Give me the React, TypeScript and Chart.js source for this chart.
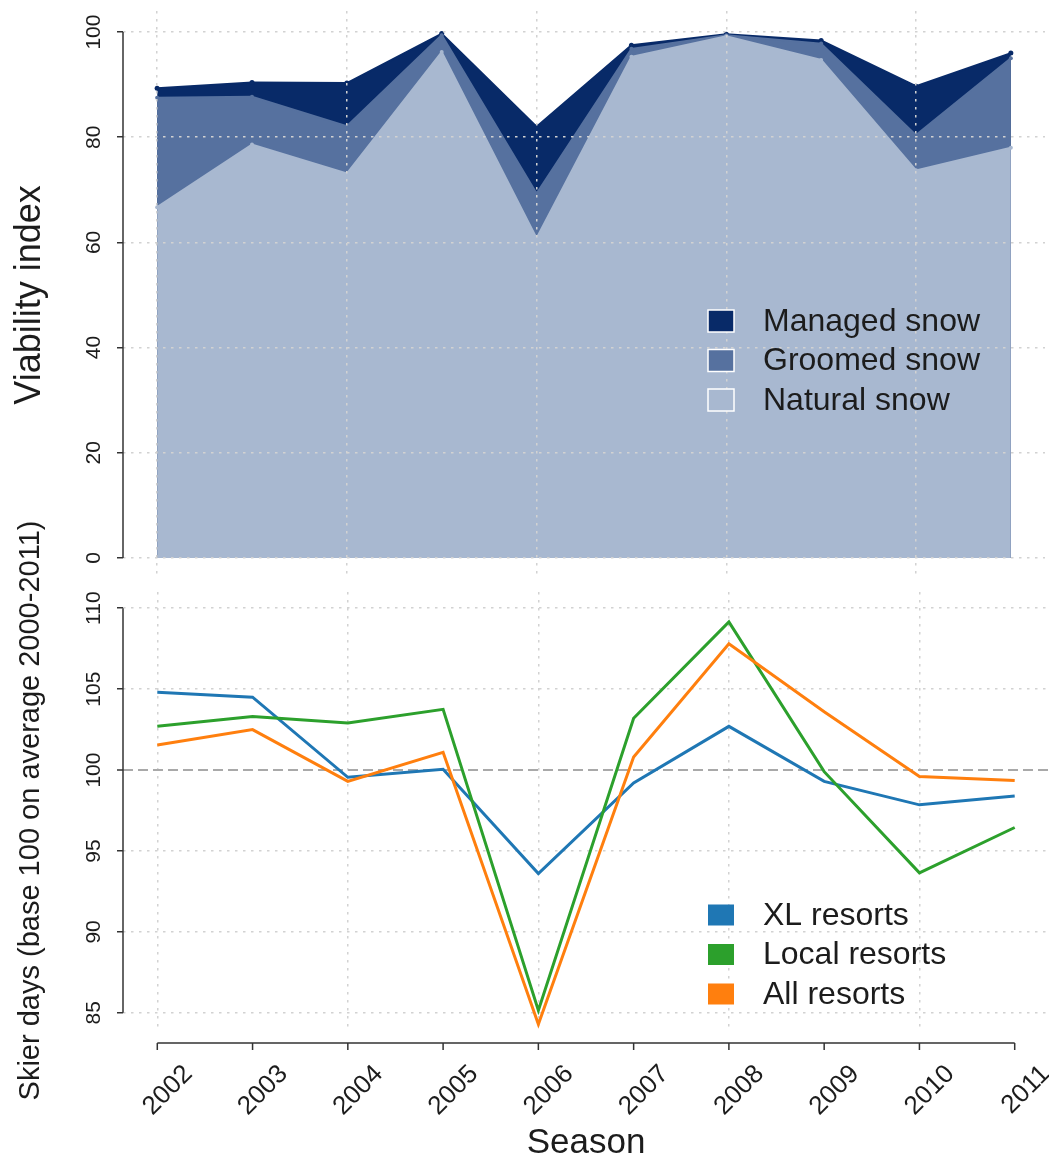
import React, { useEffect, useRef } from 'react';
import { Chart, registerables } from 'chart.js';

Chart.register(...registerables);

// ---------------- data ----------------
const YEARS = [2002, 2003, 2004, 2005, 2006, 2007, 2008, 2009, 2010, 2011];
const YEAR_LABELS = ['2002', '2003', '2004', '2005', '2006', '2007', '2008', '2009', '2010', '2011'];
const GRID_YEARS = [2002, 2004, 2006, 2008, 2010];

const MANAGED = [89.3, 90.4, 90.3, 99.7, 82.0, 97.5, 99.6, 98.4, 89.7, 96.0];
const GROOMED = [87.5, 87.7, 82.1, 99.4, 69.3, 96.8, 99.4, 97.8, 80.4, 95.0];
const NATURAL = [66.7, 78.6, 73.1, 96.2, 60.8, 95.3, 99.2, 94.7, 73.7, 78.0];
const VIAB_TICKS = [0, 20, 40, 60, 80, 100];
const SNOW_LABELS = ['Managed snow', 'Groomed snow', 'Natural snow'];

const XL = [104.8, 104.5, 99.55, 100.05, 93.6, 99.2, 102.7, 99.3, 97.85, 98.4];
const LOCAL = [102.7, 103.3, 102.9, 103.75, 85.15, 103.2, 109.15, 99.9, 93.65, 96.45];
const ALL = [101.55, 102.5, 99.3, 101.1, 84.3, 100.8, 107.8, 103.6, 99.6, 99.35];
const SKIER_TICKS = [85, 90, 95, 100, 105, 110];
const RESORT_LABELS = ['XL resorts', 'Local resorts', 'All resorts'];

// ---------------- styles ----------------
const FONT = "'Liberation Sans', Arial, Helvetica, sans-serif";
const C_MANAGED = '#082a68';
const C_GROOMED = '#56719f';
const C_NATURAL = '#a8b8d0';
const C_XL = '#1f77b4';
const C_LOCAL = '#2ca02c';
const C_ALL = '#ff7f0e';
const GRID = '#d2d2d2';
const AXIS = '#333333';
const TEXT = '#1c1c1c';

const BOT_TOP = 470; // global top of the lower canvas (overlaps upper, transparent)

const pts = (vals: number[]) => YEARS.map((x, i) => ({ x, y: vals[i] }));

const rAxisPlugin = {
  id: 'rAxis',
  afterDraw(chart: any, _args: any, opts: any) {
    const ctx = chart.ctx;
    const ys = chart.scales.y;
    const { left, bottom } = chart.chartArea;
    ctx.save();
    ctx.strokeStyle = AXIS;
    ctx.lineWidth = 1.5;
    ctx.setLineDash([]);
    const t = ys.ticks;
    ctx.beginPath();
    ctx.moveTo(left, ys.getPixelForValue(t[0].value));
    ctx.lineTo(left, ys.getPixelForValue(t[t.length - 1].value));
    ctx.stroke();
    if (opts && opts.xAxis) {
      const xs = chart.scales.x;
      const xt = xs.ticks;
      const y0 = bottom + opts.xOffset;
      ctx.beginPath();
      ctx.moveTo(xs.getPixelForValue(xt[0].value), y0);
      ctx.lineTo(xs.getPixelForValue(xt[xt.length - 1].value), y0);
      for (const tk of xt) {
        const px = xs.getPixelForValue(tk.value);
        ctx.moveTo(px, y0);
        ctx.lineTo(px, y0 + opts.tickLen);
      }
      ctx.stroke();
    }
    ctx.restore();
  },
};

const boxLegendPlugin = {
  id: 'boxLegend',
  afterDraw(chart: any, _args: any, opts: any) {
    if (!opts || !opts.items) return;
    const ctx = chart.ctx;
    ctx.save();
    ctx.font = `${opts.fontSize}px ${FONT}`;
    ctx.textBaseline = 'middle';
    ctx.textAlign = 'left';
    opts.items.forEach((it: any, i: number) => {
      const cy = opts.y + i * opts.gap;
      ctx.fillStyle = it.color;
      ctx.fillRect(opts.x, cy - opts.h / 2, opts.w, opts.h);
      if (opts.stroke) {
        ctx.strokeStyle = opts.stroke;
        ctx.lineWidth = 1.5;
        ctx.strokeRect(opts.x, cy - opts.h / 2, opts.w, opts.h);
      }
      ctx.fillStyle = TEXT;
      ctx.fillText(it.label, opts.textX, cy + 1);
    });
    ctx.restore();
  },
};

const setTicks = (vals: number[]) => (scale: any) => {
  scale.ticks = vals.map((v) => ({ value: v }));
};

function yScale(min: number, max: number, ticks: number[], title: string, titleSize: number, titlePad: number, dashed?: number) {
  return {
    type: 'linear',
    position: 'left',
    min,
    max,
    afterBuildTicks: setTicks(ticks),
    afterFit: (s: any) => {
      s.width = 123;
      s.paddingTop = 0;
      s.paddingBottom = 0;
    },
    grid: {
      z: dashed === undefined ? 1 : -1,
      color: (c: any) => (dashed !== undefined && c.tick && c.tick.value === dashed ? '#a9a9a9' : GRID),
      lineWidth: (c: any) => (dashed !== undefined && c.tick && c.tick.value === dashed ? 2 : 1.5),
      drawTicks: true,
      tickLength: 6,
      tickColor: AXIS,
      tickWidth: 1.5,
    },
    border: {
      display: false,
      dash: (c: any) => (dashed !== undefined && c.tick && c.tick.value === dashed ? [10, 5] : [2.5, 5.5]),
    },
    ticks: {
      minRotation: 90,
      maxRotation: 90,
      crossAlign: 'center',
      padding: 5,
      color: TEXT,
      font: { family: FONT, size: 21 },
      callback: (v: any) => String(v),
    },
    title: {
      display: true,
      text: title,
      color: TEXT,
      font: { family: FONT, size: titleSize },
      padding: { top: titlePad, bottom: 0 },
    },
  };
}

export default function App() {
  const topRef = useRef<HTMLCanvasElement>(null);
  const botRef = useRef<HTMLCanvasElement>(null);

  useEffect(() => {
    const top = new Chart(topRef.current as HTMLCanvasElement, {
      type: 'line',
      data: {
        datasets: [
          { label: SNOW_LABELS[2], data: pts(NATURAL), borderColor: C_NATURAL, backgroundColor: C_NATURAL, fill: 'origin', borderWidth: 2, pointRadius: 2, pointBackgroundColor: C_NATURAL, pointBorderWidth: 0, tension: 0 },
          { label: SNOW_LABELS[1], data: pts(GROOMED), borderColor: C_GROOMED, backgroundColor: C_GROOMED, fill: 'origin', borderWidth: 2, pointRadius: 2, pointBackgroundColor: C_GROOMED, pointBorderWidth: 0, tension: 0 },
          { label: SNOW_LABELS[0], data: pts(MANAGED), borderColor: C_MANAGED, backgroundColor: C_MANAGED, fill: 'origin', borderWidth: 2, pointRadius: 2.5, pointBackgroundColor: C_MANAGED, pointBorderWidth: 0, tension: 0 },
        ],
      } as any,
      options: {
        responsive: false,
        animation: false,
        devicePixelRatio: 1,
        layout: { padding: { left: 0, right: 0, top: 11, bottom: 6 } },
        plugins: {
          legend: { display: false },
          tooltip: { enabled: false },
          rAxis: { xAxis: false },
          boxLegend: {
            items: [
              { label: SNOW_LABELS[0], color: C_MANAGED },
              { label: SNOW_LABELS[1], color: C_GROOMED },
              { label: SNOW_LABELS[2], color: C_NATURAL },
            ],
            x: 708, w: 26, h: 22, y: 321, gap: 39.5, textX: 763, fontSize: 32, stroke: '#ffffff',
          },
        } as any,
        scales: {
          x: {
            type: 'linear',
            min: 2001.64,
            max: 2011.36,
            afterBuildTicks: setTicks(GRID_YEARS),
            afterFit: (s: any) => {
              s.height = 0;
              s.paddingLeft = 0;
              s.paddingRight = 0;
            },
            grid: { z: 1, color: GRID, lineWidth: 1.5, drawTicks: false },
            border: { display: false, dash: [2.5, 5.5] },
            ticks: { display: false },
          },
          y: yScale(-4, 104, VIAB_TICKS, 'Viability index', 36, 8),
        } as any,
      },
      plugins: [rAxisPlugin, boxLegendPlugin],
    });

    const bot = new Chart(botRef.current as HTMLCanvasElement, {
      type: 'line',
      data: {
        datasets: [
          { label: RESORT_LABELS[2], data: pts(ALL), borderColor: C_ALL, backgroundColor: C_ALL, borderWidth: 3, pointRadius: 0, tension: 0, fill: false },
          { label: RESORT_LABELS[1], data: pts(LOCAL), borderColor: C_LOCAL, backgroundColor: C_LOCAL, borderWidth: 3, pointRadius: 0, tension: 0, fill: false },
          { label: RESORT_LABELS[0], data: pts(XL), borderColor: C_XL, backgroundColor: C_XL, borderWidth: 3, pointRadius: 0, tension: 0, fill: false },
        ],
      } as any,
      options: {
        responsive: false,
        animation: false,
        devicePixelRatio: 1,
        layout: { padding: { left: 0, right: 0, top: 592 - BOT_TOP, bottom: 0 } },
        plugins: {
          legend: { display: false },
          tooltip: { enabled: false },
          rAxis: { xAxis: true, xOffset: 14, tickLen: 7 },
          boxLegend: {
            items: [
              { label: RESORT_LABELS[0], color: C_XL },
              { label: RESORT_LABELS[1], color: C_LOCAL },
              { label: RESORT_LABELS[2], color: C_ALL },
            ],
            x: 708, w: 26, h: 21, y: 915 - BOT_TOP, gap: 39.5, textX: 763, fontSize: 32,
          },
        } as any,
        scales: {
          x: {
            type: 'linear',
            min: 2001.64,
            max: 2011.36,
            afterBuildTicks: setTicks(YEARS),
            afterFit: (s: any) => {
              s.height = 137;
              s.paddingLeft = 0;
              s.paddingRight = 0;
            },
            grid: {
              color: (c: any) => (c.tick && c.tick.value % 2 === 0 ? GRID : 'rgba(0,0,0,0)'),
              lineWidth: 1.5,
              drawTicks: false,
            },
            border: { display: false, dash: [2.5, 5.5] },
            ticks: {
              autoSkip: false,
              minRotation: 45,
              maxRotation: 45,
              labelOffset: 31,
              padding: 30,
              color: TEXT,
              font: { family: FONT, size: 26 },
              callback: (_v: any, i: number) => YEAR_LABELS[i],
            },
            title: {
              display: true,
              text: 'Season',
              color: TEXT,
              font: { family: FONT, size: 35 },
              padding: { top: 0, bottom: 2 },
            },
          },
          y: yScale(84, 111, SKIER_TICKS, 'Skier days (base 100 on average 2000-2011)', 29, 14, 100),
        } as any,
      },
      plugins: [rAxisPlugin, boxLegendPlugin],
    });

    return () => {
      top.destroy();
      bot.destroy();
    };
  }, []);

  return (
    <div style={{ position: 'absolute', left: 0, top: 0, width: 1049, height: 1166, background: '#ffffff' }}>
      <canvas ref={topRef} width={1049} height={585} style={{ position: 'absolute', left: 0, top: 0, display: 'block' }} />
      <canvas ref={botRef} width={1049} height={1166 - BOT_TOP} style={{ position: 'absolute', left: 0, top: BOT_TOP, display: 'block' }} />
    </div>
  );
}
